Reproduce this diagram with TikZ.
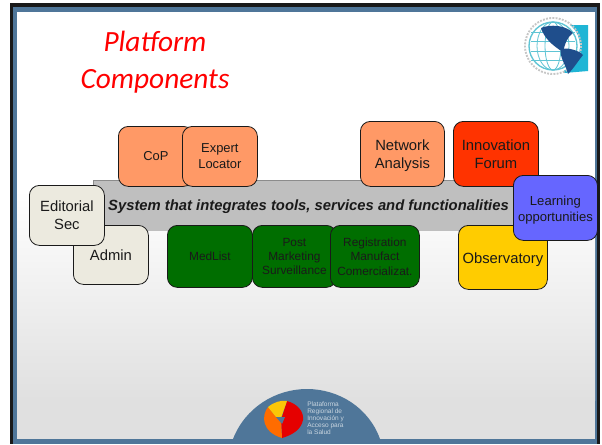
\documentclass[tikz,border=0pt]{standalone}
\usepackage{fontspec}
\setmainfont{Liberation Sans}
\newfontfamily\titlefont{Carlito}
\definecolor{orangebox}{HTML}{FF9966}
\definecolor{redbox}{HTML}{FF3300}
\definecolor{creambox}{HTML}{ECEADF}
\definecolor{greenbox}{HTML}{006E00}
\definecolor{bluebox}{HTML}{6666FF}
\definecolor{yellowbox}{HTML}{FFCC00}
\definecolor{framebar}{HTML}{4F7699}
\definecolor{greybar}{HTML}{BFBFBF}
\definecolor{pagegrey}{HTML}{E0E0E0}
\definecolor{inktext}{HTML}{1A1A1A}
\definecolor{landblue}{HTML}{1F4E8C}
\definecolor{tealflag}{HTML}{1FB5D5}
\definecolor{gridteal}{HTML}{5FC4D4}
\tikzset{
  x=0.75pt,y=-0.75pt,
  comp/.style={draw=inktext,line width=0.6pt,rounded corners=7.5pt,inner sep=0pt,align=center,anchor=north west,text=inktext,font=\fontsize{11.1pt}{13.4pt}\selectfont},
  small/.style={font=\fontsize{8.9pt}{10.8pt}\selectfont},
  medium/.style={font=\fontsize{9.7pt}{12pt}\selectfont},
  titletext/.style={text=red,font=\titlefont\itshape\fontsize{22pt}{26pt}\selectfont},
}
\newcommand{\compbox}[7][]{%
  \node[comp,fill=#4,#1,minimum width=#5*0.75pt,minimum height=#6*0.75pt] (#2) at (#3) {#7};}
\begin{document}
\begin{tikzpicture}
\useasboundingbox (0,0) rectangle (602,444);
\fill[white] (0,0) rectangle (602,444);
% frame and background
\fill[black!90] (10,3) rectangle (600,444);
\fill[framebar] (13,7) rectangle (597,444);
\fill[white] (17,12) rectangle (595,190);
\shade[top color=white,bottom color=pagegrey] (17,190) rectangle (595,400);
\fill[pagegrey] (17,400) rectangle (595,439);
\coordinate (capL) at (233,439);
\coordinate (capR) at (380,439);
\fill[framebar] (13,439) rectangle (597,444);
\fill[framebar] (capL) .. controls (245,408) and (275,389) .. (307,389) .. controls (339,389) and (369,408) .. (capR) -- cycle;
% logo at the bottom
\fill[red!90!black] (287,401) .. controls (298,404) and (304,412) .. (303,420) .. controls (301,430) and (292,435) .. (282,438) -- (281,420) -- cycle;
\fill[orange!85!red] (268,407) .. controls (261,416) and (262,432) .. (282,438) -- (281,420) -- (276,417) -- cycle;
\fill[yellow!60!orange] (268,407) .. controls (274,402) and (281,400) .. (287,401) -- (281,418) -- (276,417) -- cycle;
\fill[framebar] (276,417) -- (285,417) -- (282,424) -- cycle;
\node[text=white!70!framebar,align=left,anchor=west,inner sep=0pt,font=\fontsize{4.9pt}{5.3pt}\selectfont] (foot) at (307,418) {Plataforma\\Regional de\\Innovación y\\Acceso para\\la Salud};
% globe logo
\fill[tealflag] (564,25) -- (588,25) -- (588,71) -- (564,73) -- cycle;
\fill[white] (553,46) circle (27);
\draw[gray!45,line width=1.4pt,densely dotted] (553,46) circle (28);
\draw[gridteal,line width=1pt] (553,46) circle (24);
\foreach \r in {8,16} {\draw[gridteal,line width=0.6pt] (553,46) ellipse (\r*1 and 24);}
\foreach \r in {-14,-5,5,14} {\draw[gridteal,line width=0.6pt] (531,46+\r) -- (575,46+\r);}
\fill[landblue] (541,28) .. controls (550,24) and (566,25) .. (573,33) .. controls (567,37) and (565,44) .. (563,52) .. controls (553,46) and (544,38) .. (541,28) -- cycle;
\fill[landblue] (561,49) .. controls (568,47) and (580,51) .. (583,55) .. controls (578,61) and (574,68) .. (568,74) .. controls (566,65) and (559,57) .. (561,49) -- cycle;
% title
\node[titletext,align=center,inner sep=0pt] (title) at (155,62.5) {Platform\\[2pt]Components};
% central bar
\fill[black!45] (93,180) rectangle (535,231);
\node[draw=none,fill=greybar,anchor=north west,inner sep=0pt,minimum width=441*0.75pt,minimum height=50*0.75pt] (sysbar) at (94,181) {};
% boxes
\compbox[medium]{cop}{118,126}{orangebox}{75}{60}{CoP}
\compbox[medium]{expert}{182,126}{orangebox}{75}{60}{Expert\\Locator}
\compbox{network}{360,121}{orangebox}{84}{65}{\rule{0pt}{10.3pt}Network\\Analysis}
\compbox{innov}{453,121}{redbox}{85}{65}{Innovation\\Forum}
\compbox{admin}{73,225}{creambox}{75}{59}{Admin}
\compbox{editorial}{29,185}{creambox}{75}{60}{Editorial\\Sec}
\compbox[small]{medlist}{167,225}{greenbox}{85}{62}{MedList}
\compbox[small]{post}{252,225}{greenbox}{84}{62}{Post\\Marketing\\Surveillance}
\compbox[small]{regis}{330,225}{greenbox}{89}{62}{Registration\\Manufact\\Comercializat.}
\compbox{obs}{458,225}{yellowbox}{89}{64}{\rule{0pt}{11pt}Observatory}
\compbox[font=\fontsize{9.8pt}{12pt}\selectfont]{learn}{513,175}{bluebox}{84}{65}{\rule{0pt}{10.2pt}Learning\\opportunities}
\node[anchor=center,inner sep=0pt,text=inktext,font=\bfseries\itshape\fontsize{11.1pt}{13pt}\selectfont] (systext) at (308.5,207) {System that integrates tools, services and functionalities};
\end{tikzpicture}
\end{document}
